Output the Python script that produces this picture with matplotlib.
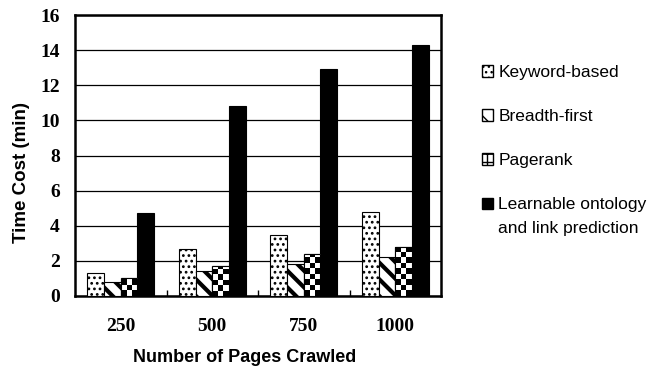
import numpy as np
import matplotlib
matplotlib.use('Agg')
import matplotlib.pyplot as plt
from matplotlib.patches import Patch

pages = ['250', '500', '750', '1000']
keyword = [1.3, 2.7, 3.5, 4.8]
breadth = [0.8, 1.4, 1.8, 2.2]
pagerank = [1.0, 1.7, 2.4, 2.8]
learnable = [4.7, 10.8, 12.9, 14.3]
yticks = [0, 2, 4, 6, 8, 10, 12, 14, 16]

plt.rcParams['hatch.color'] = 'black'

fig = plt.figure(figsize=(6.47, 3.68), dpi=100)
ax = fig.add_axes([75/647, 1-296/368, 366/647, 281/368])

x = np.arange(len(pages))
w = 0.183
with plt.rc_context({'hatch.linewidth': 1.2}):
    b1 = ax.bar(x - 1.5*w, keyword, w, color='white', edgecolor='black', lw=0.8, hatch='...', zorder=3)
    h1 = Patch(fc='white', ec='black', hatch='...')
with plt.rc_context({'hatch.linewidth': 3.0}):
    b2 = ax.bar(x - 0.5*w, breadth, w, color='white', edgecolor='black', lw=0.8, hatch='\\\\', zorder=3)
    h2 = Patch(fc='white', ec='black', hatch='\\\\')
    h3 = Patch(fc='white', ec='black', hatch='++')
b3 = ax.bar(x + 0.5*w, pagerank, w, color='white', edgecolor='black', lw=0.8, zorder=3)
b4 = ax.bar(x + 1.5*w, learnable, w, color='black', edgecolor='black', lw=0.8, zorder=3)

# checkerboard fill for pagerank, clipped to each bar
cell = 0.31
for r in b3:
    x0, y0 = r.get_x(), r.get_y()
    h = r.get_height()
    ny = int(np.ceil(h / cell))
    board = np.indices((ny, 3)).sum(axis=0) % 2
    im = ax.imshow(board, cmap='gray', extent=(x0, x0 + r.get_width(), y0, y0 + ny*cell),
                   origin='lower', aspect='auto', interpolation='nearest', zorder=3.5)
    im.set_clip_path(r)
    ax.add_patch(plt.Rectangle((x0, y0), r.get_width(), h, fill=False, ec='black', lw=0.8, zorder=4))

ax.set_xlim(-0.5, 3.5)
ax.set_ylim(0, 16)
ax.set_yticks(yticks)
ax.set_yticklabels([str(t) for t in yticks], family='Liberation Serif', fontweight='bold', fontsize=14)
ax.set_xticks(x)
ax.set_xticklabels(pages, family='Liberation Serif', fontweight='bold', fontsize=14)
ax.set_xticks(x[1:] - 0.5, minor=True)
ax.tick_params(axis='x', which='major', length=0, pad=16)
ax.tick_params(axis='x', which='minor', direction='in', length=4, width=1)
ax.tick_params(axis='y', length=0, pad=11)
ax.grid(axis='y', color='black', lw=0.9, zorder=1)
ax.set_axisbelow(True)
for s in ax.spines.values():
    s.set_linewidth(1.8)

ax.set_ylabel('Time Cost (min)', family='Liberation Sans', fontweight='bold', fontsize=13.5)
ax.set_xlabel('Number of Pages Crawled', family='Liberation Sans', fontweight='bold', fontsize=13)
ax.yaxis.set_label_coords(-0.145, 0.441)
ax.xaxis.set_label_coords(0.464, -0.22)
ax.yaxis.label.set_va('center')
ax.xaxis.label.set_va('center')

handles = [h1, h2, h3, Patch(fc='black', ec='black')]
labels = ['Keyword-based', 'Breadth-first', 'Pagerank', 'Learnable ontology']
leg = fig.legend(handles, labels, loc='upper left', bbox_to_anchor=(482/647, 1-65/368),
                 frameon=False, borderpad=0, borderaxespad=0, handlelength=0.65, handleheight=0.65,
                 handletextpad=0.3, labelspacing=1.68, prop={'family': 'Liberation Sans', 'size': 12.5})

fig.canvas.draw()
bb = leg.get_texts()[3].get_window_extent().transformed(fig.transFigure.inverted())
fig.text(bb.x0, bb.y0 - 23/368 + (bb.y1 - bb.y0) / 2, 'and link prediction', va='center', ha='left',
         family='Liberation Sans', fontsize=12.5)

fig.savefig('out.png', dpi=100)
